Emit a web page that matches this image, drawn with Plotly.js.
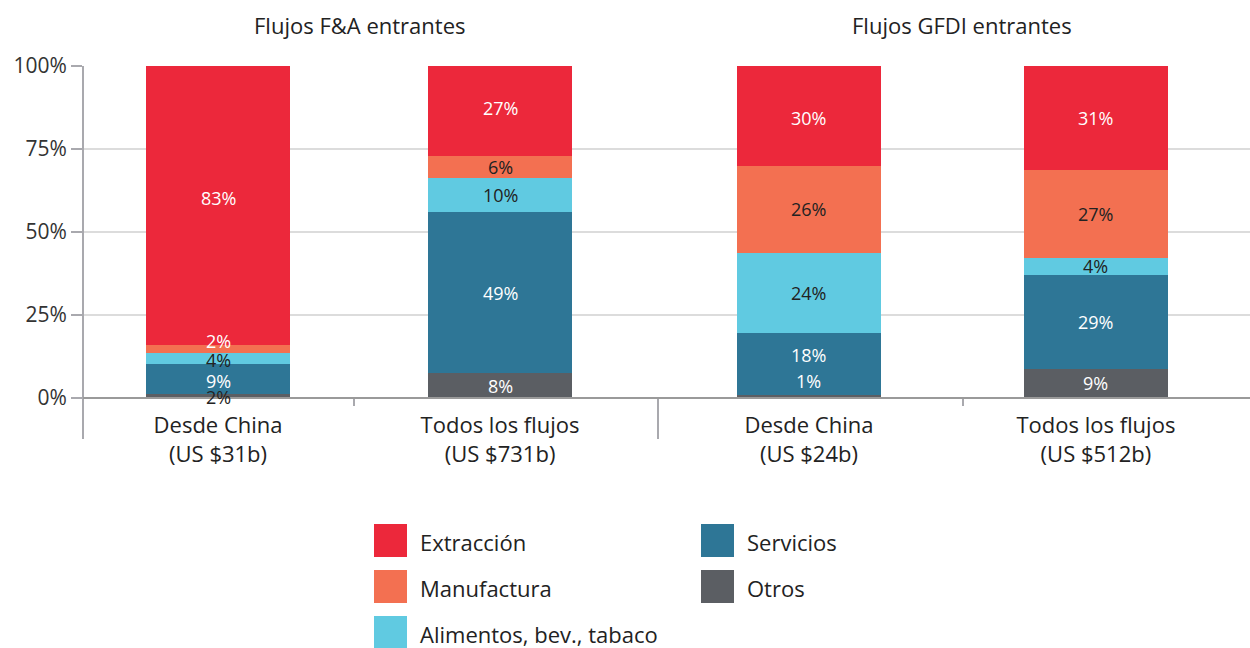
<!DOCTYPE html>
<html>
<head>
<meta charset="utf-8">
<script src="https://cdn.plot.ly/plotly-3.0.1.min.js"></script>
<style>html,body{margin:0;padding:0;background:#fff;}#chart{width:1250px;height:648px;}</style>
</head>
<body>
<div id="chart"></div>
<script>
// ---- Data ----
var groupTitles = ["Flujos F&A entrantes", "Flujos GFDI entrantes"];
var catsMA = ["Desde China<br>(US $31b)", "Todos los flujos<br>(US $731b)"];
var catsFDI = ["Desde China<br>(US $24b)", "Todos los flujos<br>(US $512b)"];
var sectors = ["Otros", "Servicios", "Alimentos, bev., tabaco", "Manufactura", "Extracción"];
// bar heights (share, %); order: [MA China, MA todos, FDI China, FDI todos]
var otros       = [1.2, 7.5, 1.0, 8.8];
var servicios   = [9.0, 48.5, 18.7, 28.4];
var alimentos   = [3.4, 10.2, 24.1, 5.1];
var manufactura = [2.4, 6.6, 26.2, 26.5];
var extraccion  = [84.0, 27.2, 30.0, 31.2];
// printed labels
var lblOtros       = ["2%", "8%", "1%", "9%"];
var lblServicios   = ["9%", "49%", "18%", "29%"];
var lblAlimentos   = ["4%", "10%", "24%", "4%"];
var lblManufactura = ["2%", "6%", "26%", "27%"];
var lblExtraccion  = ["83%", "27%", "30%", "31%"];
var yTicks = [0, 25, 50, 75, 100];

// ---- Style ----
var colors = {"Otros":"#5b5e63","Servicios":"#2e7696","Alimentos, bev., tabaco":"#60cae1","Manufactura":"#f37051","Extracción":"#ec283b"};
var W = "#ffffff", D = "#222222";
var txtColors = {
  "Otros":[D, W, W, W],
  "Servicios":[W, W, W, W],
  "Alimentos, bev., tabaco":[D, D, D, D],
  "Manufactura":[W, D, D, D],
  "Extracción":[W, W, W, W]
};
// pixel nudges of a few labels (as printed in the original)
var nudges = {"Otros":[-1, 0, 15, 0], "Servicios":[-2, 0, 9, 0], "Alimentos, bev., tabaco":[-2,0,0,0], "Manufactura":[8,0,0,0], "Extracción":[7,3,-2,0]};

var values = {"Otros":otros, "Servicios":servicios, "Alimentos, bev., tabaco":alimentos, "Manufactura":manufactura, "Extracción":extraccion};
var labels = {"Otros":lblOtros, "Servicios":lblServicios, "Alimentos, bev., tabaco":lblAlimentos, "Manufactura":lblManufactura, "Extracción":lblExtraccion};

var FONT = "'Open Sans', sans-serif";
var traces = [];
var annotations = [];
var cum = [0, 0, 0, 0];
sectors.forEach(function(s){
  var v = values[s];
  traces.push({type:"bar", name:s, x:catsMA, y:v.slice(0,2), xaxis:"x", yaxis:"y",
    marker:{color:colors[s], line:{width:0}}, width:0.51, showlegend:false, hoverinfo:"skip"});
  traces.push({type:"bar", name:s, x:catsFDI, y:v.slice(2,4), xaxis:"x2", yaxis:"y",
    marker:{color:colors[s], line:{width:0}}, width:0.502, showlegend:false, hoverinfo:"skip"});
  for (var i = 0; i < 4; i++) {
    var mid = cum[i] + v[i] / 2;
    annotations.push({
      xref: i < 2 ? "x" : "x2", yref:"y",
      x: i < 2 ? catsMA[i] : catsFDI[i-2], y: mid,
      xanchor:"center", yanchor:"middle",
      text: labels[s][i], showarrow:false, yshift: nudges[s][i],
      font:{family:FONT, size:18, color:txtColors[s][i]}
    });
    cum[i] += v[i];
  }
});

// helpers for pixel -> paper (decoration only)
function px(x){ return (x - 83) / 1167; }
function py(y){ return (398 - y) / 332; }

// group titles
annotations.push({xref:"paper", yref:"paper", x:px(359), y:py(25), xanchor:"center", yanchor:"middle", text:groupTitles[0], showarrow:false,
  font:{family:FONT, size:22, color:"#222"}});
annotations.push({xref:"paper", yref:"paper", x:px(962), y:py(25), xanchor:"center", yanchor:"middle", text:groupTitles[1], showarrow:false,
  font:{family:FONT, size:22, color:"#222"}});

var shapes = [
  {type:"line", xref:"paper", yref:"paper", x0:px(83), x1:px(83), y0:py(66), y1:py(439), line:{color:"#a9a9ae", width:2}},
  {type:"line", xref:"paper", yref:"paper", x0:px(658), x1:px(658), y0:py(398), y1:py(439), line:{color:"#a9a9ae", width:2}},
  {type:"line", xref:"paper", yref:"paper", x0:px(354), x1:px(354), y0:py(398), y1:py(406), line:{color:"#a9a9ae", width:2}},
  {type:"line", xref:"paper", yref:"paper", x0:px(963), x1:px(963), y0:py(398), y1:py(406), line:{color:"#a9a9ae", width:2}},
  {type:"line", xref:"paper", yref:"paper", x0:px(83), x1:px(1250), y0:py(398), y1:py(398), line:{color:"#9a9a9a", width:2}}
];

// manual legend (big square swatches)
var legendItems = [
  {name:"Extracción", x:374, y:524},
  {name:"Manufactura", x:374, y:570},
  {name:"Alimentos, bev., tabaco", x:374, y:616},
  {name:"Servicios", x:701, y:524},
  {name:"Otros", x:701, y:570}
];
legendItems.forEach(function(it){
  shapes.push({type:"rect", xref:"paper", yref:"paper", x0:px(it.x), x1:px(it.x+33), y0:py(it.y), y1:py(it.y+33),
    fillcolor:colors[it.name], line:{width:0}});
  annotations.push({xref:"paper", yref:"paper", x:px(it.x+44), y:py(it.y+18), xanchor:"left", yanchor:"middle",
    text:it.name, showarrow:false, font:{family:FONT, size:22, color:"#222"}});
});

var d1 = px(658);
var layout = {
  width:1250, height:648,
  margin:{l:83, r:0, t:66, b:250, pad:0},
  paper_bgcolor:"#fff", plot_bgcolor:"#fff",
  barmode:"stack", bargap:0,
  showlegend:false,
  font:{family:FONT, color:"#222"},
  xaxis:{domain:[0, d1], type:"category", range:[-0.479, 1.560], showline:false, showgrid:false, zeroline:false,
    ticks:"", ticklabelstandoff:12, tickfont:{family:FONT, size:22, color:"#222"}, fixedrange:true},
  xaxis2:{domain:[d1, 1], type:"category", range:[-0.526, 1.537], anchor:"y", showline:false, showgrid:false, zeroline:false,
    ticks:"", ticklabelstandoff:12, tickfont:{family:FONT, size:22, color:"#222"}, fixedrange:true},
  yaxis:{range:[0, 100], tickvals:yTicks, ticktext:yTicks.map(function(t){return t + "%";}),
    ticks:"outside", ticklen:11, tickcolor:"#a9a9ae", tickwidth:2,
    showgrid:true, gridcolor:"#dcdcdc", gridwidth:2, zeroline:false, showline:false,
    tickfont:{family:FONT, size:21, color:"#333"}, fixedrange:true},
  shapes:shapes,
  annotations:annotations
};

Plotly.newPlot("chart", traces, layout, {displayModeBar:false, staticPlot:true});
</script>
</body>
</html>
